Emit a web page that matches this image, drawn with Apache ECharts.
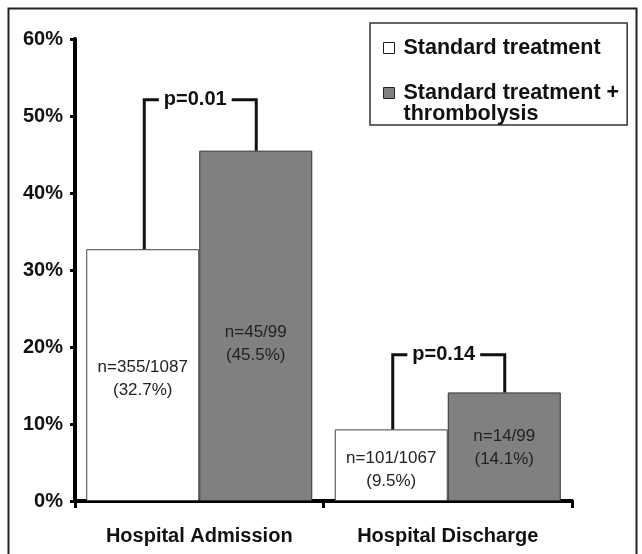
<!DOCTYPE html>
<html><head><meta charset="utf-8">
<script src="https://cdn.jsdelivr.net/npm/echarts@6/dist/echarts.min.js"></script>
<style>html,body{margin:0;padding:0;background:#fff}#c{width:642px;height:554px}</style>
</head><body><div id="c"></div>
<script>
const categories = ['Hospital Admission', 'Hospital Discharge'];
const seriesNames = ['Standard treatment', 'Standard treatment + thrombolysis'];
const standardValues = [32.7, 9.3];
const thrombolysisValues = [45.5, 14.1];
const standardLabels = ['n=355/1087\n(32.7%)', 'n=101/1067\n(9.5%)'];
const thrombolysisLabels = ['n=45/99\n(45.5%)', 'n=14/99\n(14.1%)'];
const pValues = ['p=0.01', 'p=0.14'];
const bracketLevels = [52.1, 19.0];

const FONT = '"Liberation Sans", Arial, sans-serif';
const chart = echarts.init(document.getElementById('c'), null, {renderer: 'canvas'});

const stdLabelOffsets = [[0, 4], [0, 5]];
const thrLabelOffsets = [[0, 18], [0, 1]];

const option = {
  animation: false,
  backgroundColor: '#fff',
  graphic: [{
    type: 'rect', left: 6, top: 6, shape: {x: 0, y: 0, width: 628, height: 570},
    style: {fill: null, stroke: '#222', lineWidth: 2}, silent: true
  }],
  grid: {left: 75, right: 70, top: 39, bottom: 53, containLabel: false},
  legend: {
    orient: 'vertical', left: 370, top: 23,
    padding: [14, 8, 0, 13],
    borderColor: '#333', borderWidth: 1.5,
    itemWidth: 11, itemHeight: 11, itemGap: 2,
    icon: 'rect',
    itemStyle: {borderColor: '#222', borderWidth: 1},
    textStyle: {fontFamily: FONT, fontWeight: 'bold', fontSize: 21.5, color: '#111', lineHeight: 21, padding: [0, 0, 0, 4]},
    formatter: function (name) {
      return name.indexOf(' + ') >= 0 ? '\n' + name.replace(' + ', ' +\n') : name;
    },
    data: seriesNames
  },
  xAxis: {
    type: 'category', data: categories,
    axisLine: {lineStyle: {color: '#000', width: 4}},
    axisTick: {show: true, length: 7, lineStyle: {color: '#000', width: 3}},
    axisLabel: {fontFamily: FONT, fontWeight: 'bold', fontSize: 20, color: '#111', margin: 25}
  },
  yAxis: {
    type: 'value', min: 0, max: 60, interval: 10,
    axisLine: {show: true, lineStyle: {color: '#000', width: 4}},
    axisTick: {show: true, length: 5, lineStyle: {color: '#000', width: 3}},
    splitLine: {show: false},
    axisLabel: {formatter: '{value}%', fontFamily: FONT, fontWeight: 'bold', fontSize: 20, color: '#111', margin: 12}
  },
  series: [
    {
      name: seriesNames[0], type: 'bar', barWidth: 113, barGap: '0%',
      itemStyle: {color: '#fff', borderColor: '#444', borderWidth: 1},
      label: {show: true, position: 'inside', fontFamily: FONT, fontSize: 17, color: '#222', lineHeight: 23,
        formatter: p => standardLabels[p.dataIndex]},
      data: standardValues.map((v, i) => ({value: v, label: {offset: stdLabelOffsets[i]}}))
    },
    {
      name: seriesNames[1], type: 'bar', barWidth: 113, barGap: '0%',
      itemStyle: {color: '#808080', borderColor: '#333', borderWidth: 1},
      label: {show: true, position: 'inside', fontFamily: FONT, fontSize: 17, color: '#222', lineHeight: 23,
        formatter: p => thrombolysisLabels[p.dataIndex]},
      data: thrombolysisValues.map((v, i) => ({value: v, label: {offset: thrLabelOffsets[i]}}))
    },
    {
      type: 'custom', silent: true, z: 5,
      data: categories.map((c, i) => [i, bracketLevels[i], standardValues[i], thrombolysisValues[i]]),
      renderItem: function (params, api) {
        const i = api.value(0);
        const top = api.coord([i, api.value(1)]);
        const yW = api.coord([i, api.value(2)])[1];
        const yG = api.coord([i, api.value(3)])[1];
        const cx = top[0];
        return {
          type: 'group',
          children: [
            {type: 'polyline', shape: {points: [[cx - 55, yW], [cx - 55, top[1]], [cx + 57, top[1]], [cx + 57, yG]]},
              style: {stroke: '#111', lineWidth: 3, fill: null, lineJoin: 'miter'}},
            {type: 'text', style: {text: pValues[params.dataIndex], x: cx - 4, y: top[1], align: 'center', verticalAlign: 'middle',
              font: 'bold 20px ' + FONT, fill: '#111', backgroundColor: '#fff', padding: [0, 5]}}
          ]
        };
      }
    }
  ]
};
chart.setOption(option);
</script></body></html>
